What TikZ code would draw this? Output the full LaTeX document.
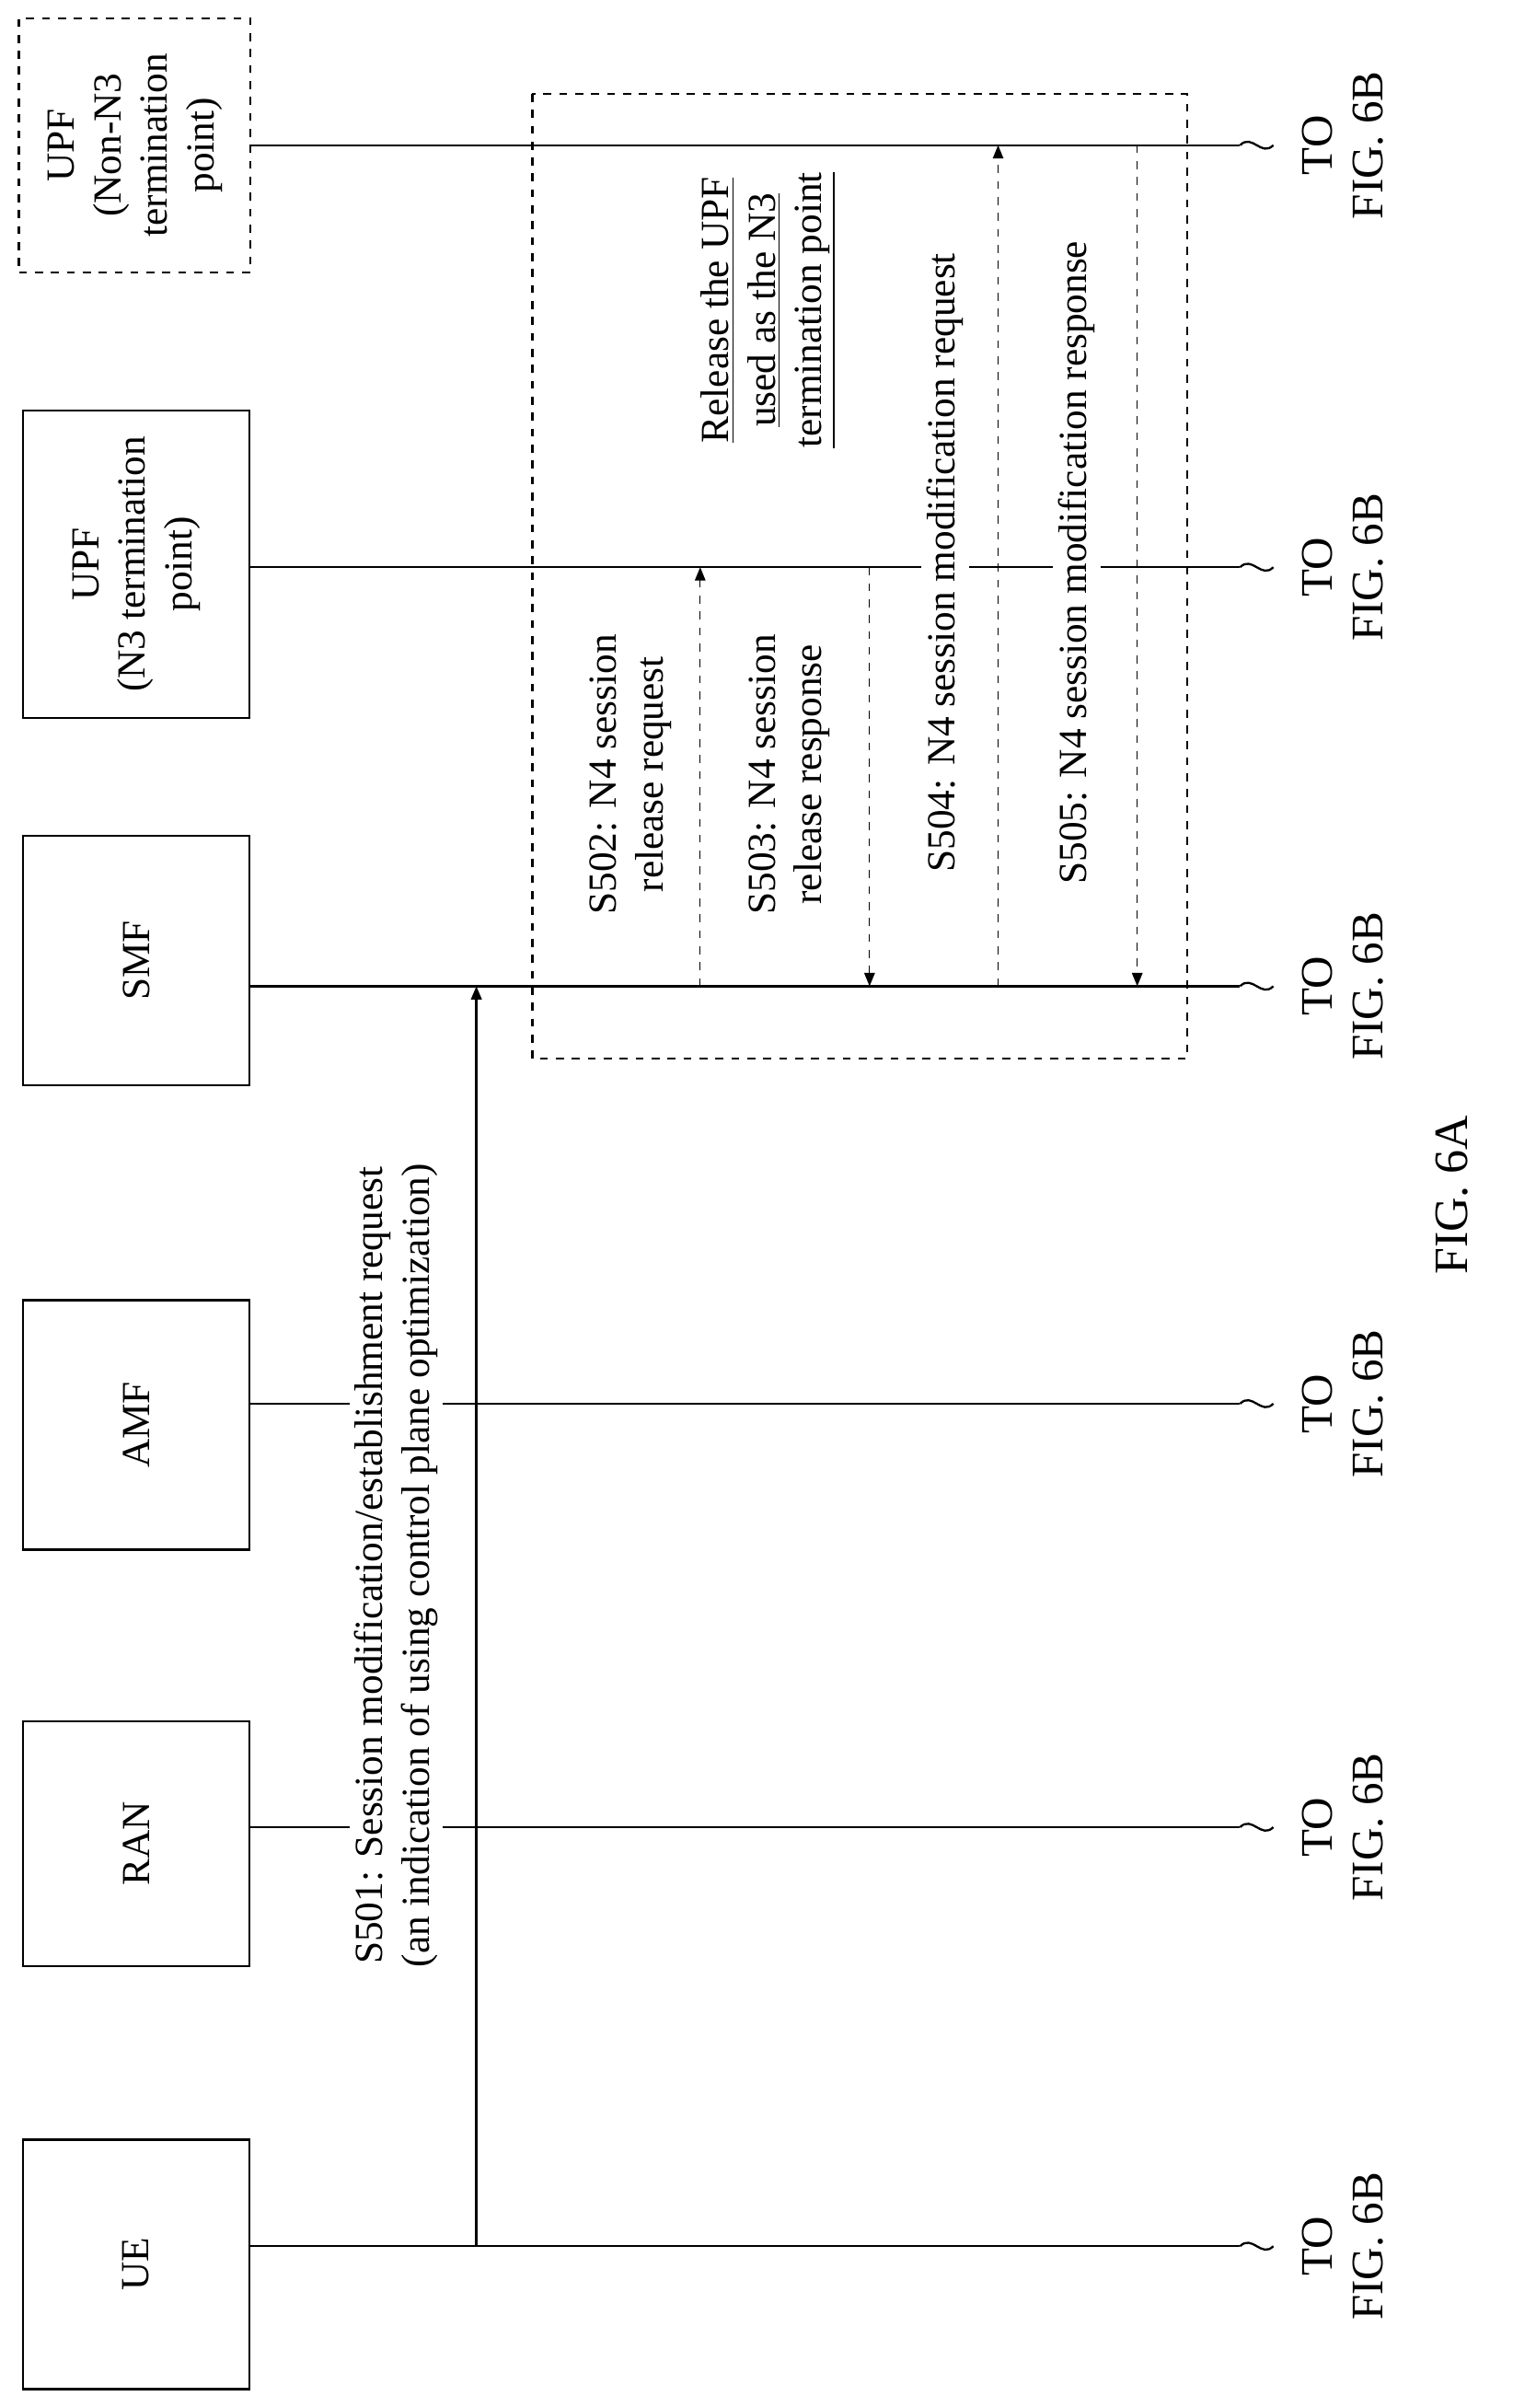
\documentclass[tikz,border=0pt]{standalone}
\usepackage{fontspec}
\setmainfont{Liberation Serif}
\usetikzlibrary{arrows.meta}
\tikzset{
  ent/.style={draw,thick,minimum width=3cm,inner sep=0pt},
  lbl/.style={rotate=90,align=center,font=\fontsize{15}{17.5}\selectfont,fill=white,inner sep=2pt},
  msg/.style={dashed,-{Triangle[length=5pt,width=4pt]}},
}
\begin{document}
\begin{tikzpicture}[x=0.02cm,y=-0.02cm]
\useasboundingbox (0,0) rectangle (1000,1592);
% entities
\node[ent,minimum height=3.3cm] (ue) at (90,1497) {\rotatebox{90}{\fontsize{15}{17.5}\selectfont UE}};
\node[ent,minimum height=3.24cm] (ran) at (90,1219) {\rotatebox{90}{\fontsize{15}{17.5}\selectfont RAN}};
\node[ent,minimum height=3.3cm] (amf) at (90,942) {\rotatebox{90}{\fontsize{15}{17.5}\selectfont AMF}};
\node[ent,minimum height=3.3cm] (smf) at (90,635) {\rotatebox{90}{\fontsize{15}{17.5}\selectfont SMF}};
\node[ent,minimum height=4.06cm] (upf) at (90,373) {\rotatebox{90}{\fontsize{15}{17.5}\selectfont\begin{tabular}{c}UPF\\(N3 termination\\point)\end{tabular}}};
\node[ent,dashed,minimum width=3.06cm,minimum height=3.36cm] (upfx) at (89,96) {\rotatebox{90}{\fontsize{15}{17.5}\selectfont\begin{tabular}{c}UPF\\(Non-N3\\termination\\point)\end{tabular}}};
% lifelines
\foreach \n/\y in {ue/1485,ran/1208,amf/928,smf/652,upf/375,upfx/96}{
  \coordinate (\n-e) at (820,\y);
  \draw[thick] (165,\y) -- (\n-e);
  \draw[thick] (\n-e) .. controls (828,\y-8) and (834,\y+8) .. (842,\y);
  \node[rotate=90,align=center,font=\fontsize{17}{19}\selectfont] at (888,\y) {TO\\FIG. 6B};
}
% dashed frame
\draw[dashed,thick] (352,62) rectangle (785,700);
% S501
\coordinate (s501a) at (315,1485);
\coordinate (s501b) at (315,652);
\node[lbl] (l501) at (262,1035) {S501: Session modification/establishment request\\(an indication of using control plane optimization)};
\draw[thick,-{Triangle[length=5pt,width=4pt]}] (s501a) -- (s501b);
% S502 - S505
\node[lbl] (l502) at (417,512) {S502: N4 session\\release request};
\node[lbl] (l503) at (522,512) {S503: N4 session\\release response};
\node[lbl] (l504) at (625,372) {S504: N4 session modification request};
\node[lbl] (l505) at (712,372) {S505: N4 session modification response};
\draw[msg] (463,652) -- (463,375);
\draw[msg] (575,375) -- (575,652);
\draw[msg] (660,652) -- (660,96);
\draw[msg] (752,96) -- (752,652);
\node[rotate=90,align=center,font=\fontsize{15}{17.5}\selectfont] (rel) at (508,205) {\underline{Release the UPF}\\\underline{used as the N3}\\\underline{termination point}};
\node[rotate=90,font=\fontsize{18}{20}\selectfont] (fig) at (960,790) {FIG. 6A};
\end{tikzpicture}
\end{document}
